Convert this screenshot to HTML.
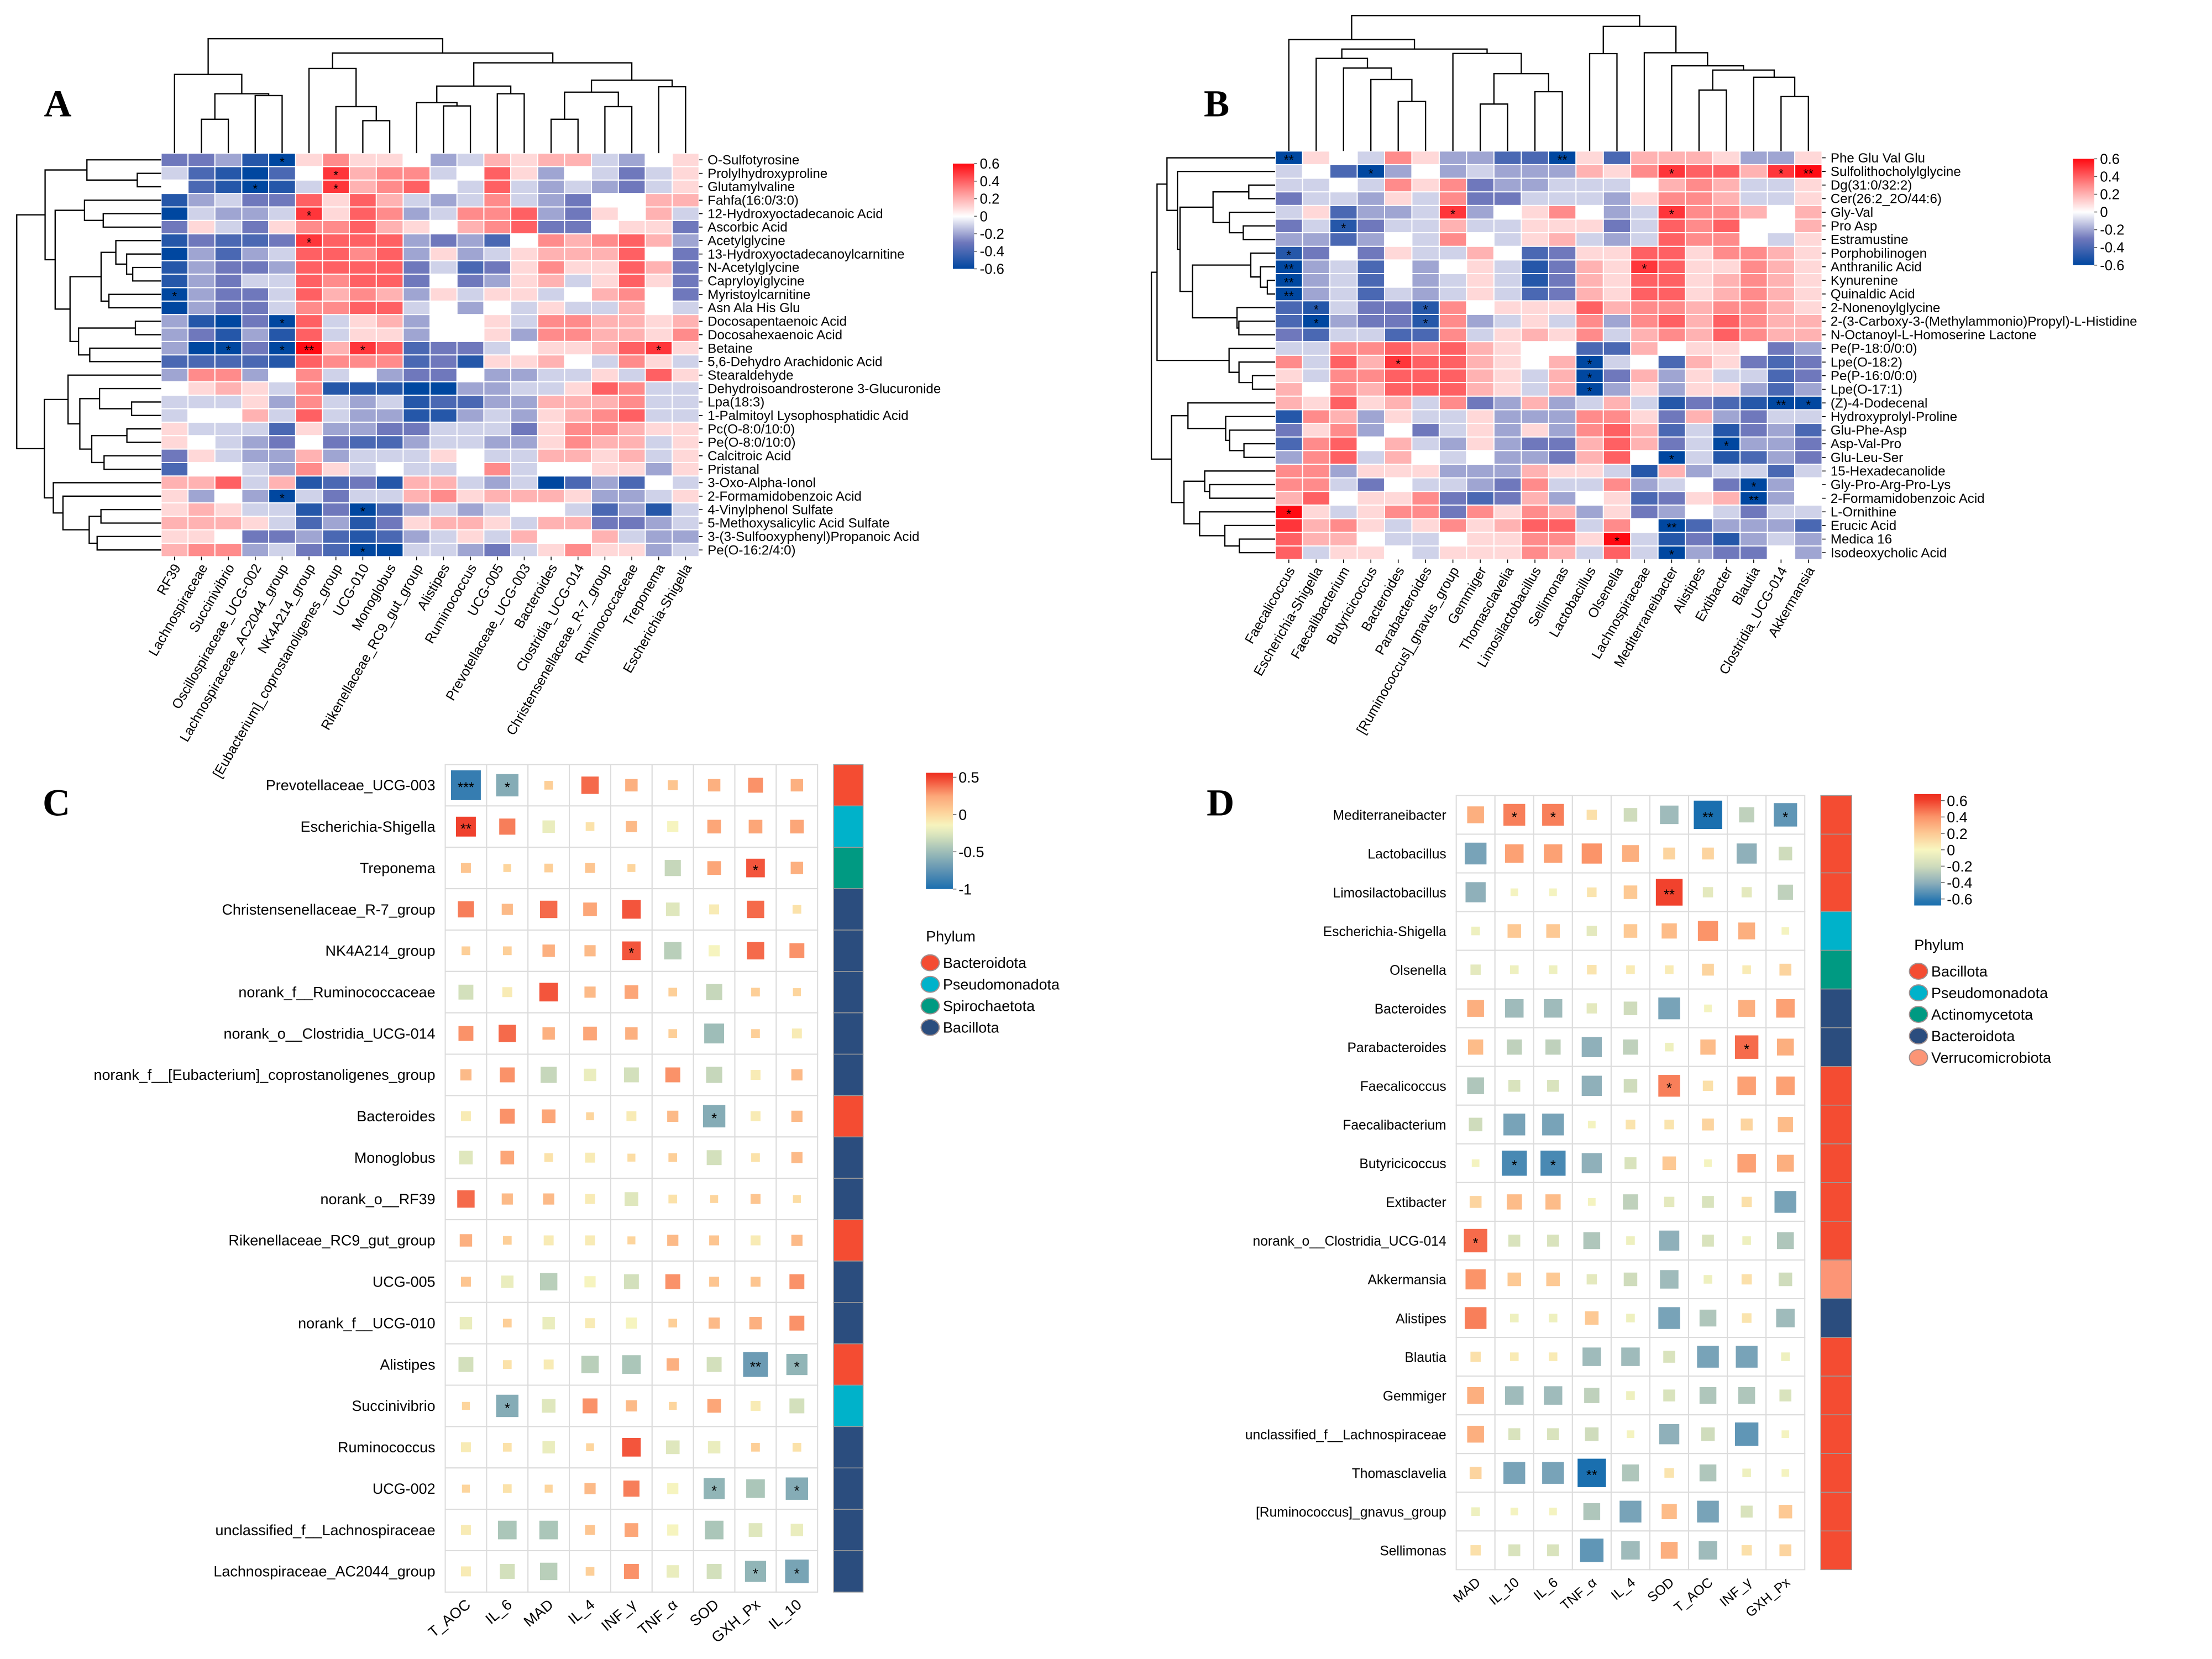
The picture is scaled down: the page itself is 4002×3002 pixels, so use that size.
<!DOCTYPE html>
<html><head><meta charset="utf-8"><style>
html,body{margin:0;padding:0;background:#fff}
svg{display:block}
text{font-family:"Liberation Sans",Arial,sans-serif;fill:#000}
</style></head><body>
<svg id="fig" xmlns="http://www.w3.org/2000/svg" width="4002" height="3002" viewBox="0 0 1560 1170" preserveAspectRatio="none">
<rect x="0" y="0" width="1560" height="1170" fill="#fff"/>
<g id="gA"></g>
<g id="gB"></g>
<g id="gC"></g>
<g id="gD"></g>
<text x="31" y="82" style="font-family:'Liberation Serif',serif;font-weight:bold;font-size:27px">A</text>
<text x="849" y="82" style="font-family:'Liberation Serif',serif;font-weight:bold;font-size:27px">B</text>
<text x="30" y="575" style="font-family:'Liberation Serif',serif;font-weight:bold;font-size:27px">C</text>
<text x="851" y="575" style="font-family:'Liberation Serif',serif;font-weight:bold;font-size:27px">D</text>
</svg>
<script>
// ---------- Panel A data ----------
const colsA = ["RF39","Lachnospiraceae","Succinivibrio","Oscillospiraceae_UCG-002","Lachnospiraceae_AC2044_group","NK4A214_group","[Eubacterium]_coprostanoligenes_group","UCG-010","Monoglobus","Rikenellaceae_RC9_gut_group","Alistipes","Ruminococcus","UCG-005","Prevotellaceae_UCG-003","Bacteroides","Clostridia_UCG-014","Christensenellaceae_R-7_group","Ruminococcaceae","Treponema","Escherichia-Shigella"];
const rowsA = ["O-Sulfotyrosine","Prolylhydroxyproline","Glutamylvaline","Fahfa(16:0/3:0)","12-Hydroxyoctadecanoic Acid","Ascorbic Acid","Acetylglycine","13-Hydroxyoctadecanoylcarnitine","N-Acetylglycine","Capryloylglycine","Myristoylcarnitine","Asn Ala His Glu","Docosapentaenoic Acid","Docosahexaenoic Acid","Betaine","5,6-Dehydro Arachidonic Acid","Stearaldehyde","Dehydroisoandrosterone 3-Glucuronide","Lpa(18:3)","1-Palmitoyl Lysophosphatidic Acid","Pc(O-8:0/10:0)","Pe(O-8:0/10:0)","Calcitroic Acid","Pristanal","3-Oxo-Alpha-Ionol","2-Formamidobenzoic Acid","4-Vinylphenol Sulfate","5-Methoxysalicylic Acid Sulfate","3-(3-Sulfooxyphenyl)Propanoic Acid","Pe(O-16:2/4:0)"];
// values in tenths of r
const valsA = [
[-3,-3,-2,-5,-6,1,3,1,1,0,-2,-1,2,1,2,2,-1,-2,0,1],
[-1,-4,-5,-6,-4,0,5,2,3,3,-1,0,4,1,-2,0,-1,-3,-1,1],
[0,-4,-5,-6,-5,-1,5,2,3,4,0,-1,4,-1,-2,-1,-2,-3,-1,1],
[-5,-2,-1,-3,-3,4,1,4,2,-1,-2,-1,3,-1,-2,-3,0,0,2,2],
[-6,-1,-2,-2,-1,5,1,4,3,-2,-1,3,3,4,-2,-3,1,0,2,-1],
[-3,1,-1,-3,1,3,3,4,2,1,0,2,3,4,-3,-3,0,1,1,-3],
[-5,-3,-4,-4,-3,5,4,4,4,-2,-3,-2,-4,0,3,2,3,4,2,-2],
[-6,-2,-4,-2,-1,4,4,3,4,-2,1,-2,-1,1,2,2,2,4,0,-3],
[-5,-2,-3,-3,-2,4,4,4,4,-3,-1,-4,-3,1,3,1,1,4,2,-3],
[-5,-2,-3,-1,-1,4,3,4,4,-3,0,-3,-2,1,2,-1,1,4,1,-3],
[-6,-2,-3,-3,-1,4,2,3,2,-2,1,-1,1,1,-1,0,2,3,0,-3],
[-6,-2,-3,-3,-1,3,3,4,4,-1,0,-2,0,-1,1,-1,-1,2,0,-1],
[-2,-5,-6,-3,-6,4,-1,1,2,-2,0,0,1,-1,3,3,2,2,1,2],
[-2,-3,-5,-2,-5,4,-1,1,1,-2,0,0,1,-2,3,3,2,2,1,3],
[-2,-6,-6,-3,-6,6,2,5,4,-4,-3,-3,-1,0,1,1,2,4,5,1],
[-4,-4,-4,-4,-5,4,3,3,3,-4,-3,-5,1,1,2,0,-1,3,1,-1],
[-2,3,3,-2,0,3,-1,0,-2,-3,-3,0,-2,-2,-1,-1,1,-1,4,1],
[0,1,2,1,-1,3,-5,-5,-5,-6,-6,-2,-2,-1,-1,1,4,3,-1,-1],
[-1,-1,-1,1,-2,3,-1,-2,-1,-5,-4,-4,-2,-2,2,2,2,3,-1,-1],
[-1,0,0,2,-1,4,-1,-2,-2,-5,-5,-2,-1,-2,1,2,3,4,-1,-1],
[1,-1,-1,-1,-4,1,-2,-2,-3,-3,-1,-1,-1,-3,1,3,3,2,1,1],
[1,0,-1,-2,-3,0,-3,-4,-4,-2,-1,-1,-2,-2,1,3,2,2,-1,1],
[-3,1,-1,-2,-2,2,-2,-1,-1,-1,1,0,-1,-1,2,2,1,2,-1,1],
[-4,0,0,-1,-2,3,1,-1,0,-1,-1,0,3,-1,0,0,1,1,-2,1],
[2,2,4,-1,2,-5,-4,-3,-5,2,2,-1,-2,-1,-6,-4,-2,-4,0,-1],
[1,-2,0,-2,-6,-1,-3,-1,-1,2,3,1,2,2,2,1,-2,-2,-1,1],
[1,2,1,-1,-1,-5,-3,-6,-4,-2,-1,-2,-1,0,0,-1,-4,-2,-5,-1],
[2,2,2,1,-1,-4,-2,-5,-3,1,2,2,1,-1,2,2,-3,-3,-2,-1],
[1,1,0,-3,-3,-2,-4,-5,-4,-2,-1,1,-1,2,0,0,2,-1,-2,-2],
[2,3,3,-2,-1,-3,-4,-6,-6,-1,-1,-2,-3,-1,1,3,1,1,-2,-1]];
const sigA = [[0,4,"*"],[1,6,"*"],[2,3,"*"],[2,6,"*"],[4,5,"*"],[6,5,"*"],[10,0,"*"],[12,4,"*"],[14,2,"*"],[14,4,"*"],[14,5,"**"],[14,7,"*"],[14,18,"*"],[25,4,"*"],[26,7,"*"],[29,7,"*"]];
const treeColA = [[0,[[1,2,84.1],[3,4,67.4],66.1],52.5],[[5,[6,[7,8,85.1],75.2],48.3],[[[9,[10,11,74.7],72.4],[12,13,66.1],60.7],[[[14,15,84.1],[16,17,75.2],65],[18,19,61.2],56.5],44.3],37.4],27.3];
const treeRowA = [[[0,[1,2,96.8],61.3],[[3,[4,5,72.8],59.6],[[[6,[7,[8,9,93.6],89.3],81.7],[10,11,76.8],71.3],[[12,13,95.5],[14,15,63.3],55.4],49.4],38.9],31.8],[[16,[[17,[18,19,92.8],70.2],[[20,21,89.5],[22,23,73.4],64.7],56.3],48],[24,[25,[[26,27,71.2],[28,29,68.5],62.9],44.4],37.6],31.3],11.8];

// ---------- Panel B data ----------
const colsB = ["Faecalicoccus","Escherichia-Shigella","Faecalibacterium","Butyricicoccus","Bacteroides","Parabacteroides","[Ruminococcus]_gnavus_group","Gemmiger","Thomasclavelia","Limosilactobacillus","Sellimonas","Lactobacillus","Olsenella","Lachnospiraceae","Mediterraneibacter","Alistipes","Extibacter","Blautia","Clostridia_UCG-014","Akkermansia"];
const rowsB = ["Phe Glu Val Glu","Sulfolithocholylglycine","Dg(31:0/32:2)","Cer(26:2_2O/44:6)","Gly-Val","Pro Asp","Estramustine","Porphobilinogen","Anthranilic Acid","Kynurenine","Quinaldic Acid","2-Nonenoylglycine","2-(3-Carboxy-3-(Methylammonio)Propyl)-L-Histidine","N-Octanoyl-L-Homoserine Lactone","Pe(P-18:0/0:0)","Lpe(O-18:2)","Pe(P-16:0/0:0)","Lpe(O-17:1)","(Z)-4-Dodecenal","Hydroxyprolyl-Proline","Glu-Phe-Asp","Asp-Val-Pro","Glu-Leu-Ser","15-Hexadecanolide","Gly-Pro-Arg-Pro-Lys","2-Formamidobenzoic Acid","L-Ornithine","Erucic Acid","Medica 16","Isodeoxycholic Acid"];
const valsB = [
[-6,1,0,-1,3,1,-2,-2,-4,-4,-6,1,-4,2,2,2,1,-2,-2,1],
[-1,0,-4,-6,-2,0,-2,-1,-2,-2,-2,2,1,3,5,4,4,2,5,6],
[-1,-1,0,-1,3,1,3,-3,-2,-2,-1,-1,-1,0,2,3,2,-1,-1,1],
[-3,-1,-1,-2,1,-1,3,-3,-3,-1,-1,-1,-2,1,3,3,2,-1,-1,1],
[-1,1,-4,-2,-2,-1,5,-2,0,1,3,0,-2,-1,5,3,3,2,0,2],
[-3,-1,-5,-3,-1,-1,2,-1,-1,1,1,1,-3,-1,4,3,4,0,0,2],
[-2,-2,-4,-2,0,-1,3,0,-1,1,2,-1,-2,-1,4,3,3,0,-1,1],
[-5,-3,0,-3,1,-1,-1,2,0,-4,-3,1,1,4,4,1,3,3,2,1],
[-6,-2,-1,-4,0,-2,0,1,-1,-5,-3,2,1,5,4,1,1,3,2,1],
[-6,-2,-1,-4,0,-2,-1,1,-1,-5,-3,2,1,4,4,1,2,3,2,1],
[-6,-2,-1,-4,-1,-2,-1,1,-1,-4,-3,2,1,4,4,1,2,3,2,1],
[-4,-5,-1,-3,-3,-5,3,0,1,1,1,4,2,3,3,2,3,3,2,1],
[-4,-6,-2,-3,-3,-5,3,-2,-1,1,-1,3,-2,3,4,2,4,3,2,2],
[-3,-4,-1,-1,-4,-4,3,-1,1,2,1,3,-1,2,3,2,4,3,2,2],
[-1,-1,3,3,4,3,4,2,1,0,0,-4,-4,2,0,1,1,0,-3,-2],
[3,-1,4,2,5,4,4,2,1,0,2,-6,-1,0,-4,2,1,-3,-4,-3],
[1,-1,3,3,4,4,4,2,1,-1,2,-6,-3,2,-2,1,-1,-1,-4,-3],
[2,0,3,2,4,4,4,2,1,-1,2,-6,-2,1,-2,1,1,-2,-4,-2],
[2,1,4,1,2,-1,3,-3,-2,2,-2,-1,2,-1,-5,-3,-4,-5,-6,-6],
[-5,3,2,-2,1,-1,-1,1,-2,-2,-2,3,3,1,-3,2,-2,-3,-1,-1],
[-3,1,3,-2,0,-3,-1,1,-2,1,-2,3,4,2,-4,-1,-5,-3,-2,-4],
[-4,3,4,0,2,-1,-2,1,-2,-3,-3,2,4,2,-3,-1,-6,-2,-2,-3],
[-2,3,4,-1,2,0,-1,0,-2,-2,-3,2,4,0,-6,-1,-5,-4,-2,-3],
[3,3,-2,1,1,1,-2,-2,-2,2,1,1,-1,-5,2,-2,-1,-1,-4,-1],
[3,3,-1,-3,0,-1,-1,-2,-3,3,-1,-1,3,-2,-1,0,-3,-6,-2,0],
[2,4,0,1,1,3,-3,-4,-3,2,-2,0,1,-4,-3,1,2,-6,-2,0],
[6,1,-1,1,3,3,-3,3,1,3,2,-2,1,-3,-2,0,-1,-3,-1,-1],
[5,2,3,1,-1,1,3,1,2,4,4,-1,3,0,-6,-4,-2,-2,-2,-4],
[4,2,2,0,-1,-1,0,1,1,3,3,1,6,-1,-5,-3,-5,-2,-1,-2],
[4,-1,1,1,0,-1,1,1,1,3,2,-1,4,-1,-6,-2,-3,-3,0,-2]];
const sigB = [[0,0,"**"],[0,10,"**"],[1,3,"*"],[1,14,"*"],[1,18,"*"],[1,19,"**"],[4,6,"*"],[4,14,"*"],[5,2,"*"],[7,0,"*"],[8,0,"**"],[8,13,"*"],[9,0,"**"],[10,0,"**"],[11,1,"*"],[11,5,"*"],[12,1,"*"],[12,5,"*"],[15,4,"*"],[15,11,"*"],[16,11,"*"],[17,11,"*"],[18,18,"**"],[18,19,"*"],[21,16,"*"],[22,14,"*"],[24,17,"*"],[25,17,"**"],[26,0,"*"],[27,14,"**"],[28,12,"*"],[29,14,"*"]];
const treeColB = [[0,[[1,[2,[3,[4,5,71.6],56.1],48],41.2],[6,[[7,8,73.4],[9,10,64.7],51.9],37.7],34.6],27.9],[[11,12,37.8],[13,[14,[[15,16,63.5],[17,[18,19,68.1],54.5],49.4],46.4],37.2],18.6],11];
const treeRowB = [[[0,[1,[[[2,3,880.7],[4,[5,6,876.8],867],855.5],[[7,[8,[9,10,893.8],888.9],882.1],[11,[12,13,873.7],872.4],841],832.2],830.4],823],[14,[15,[16,17,883.3],873.8],866.8],816],[[18,[19,[20,[21,22,877.3],867.2],864.4],837.8],[[23,[24,25,853.1],849.6],[26,[27,[28,29,874],863.8],846],835],826.2],812];

// ---------- Panel C data ----------
const rowsC = ["Prevotellaceae_UCG-003","Escherichia-Shigella","Treponema","Christensenellaceae_R-7_group","NK4A214_group","norank_f__Ruminococcaceae","norank_o__Clostridia_UCG-014","norank_f__[Eubacterium]_coprostanoligenes_group","Bacteroides","Monoglobus","norank_o__RF39","Rikenellaceae_RC9_gut_group","UCG-005","norank_f__UCG-010","Alistipes","Succinivibrio","Ruminococcus","UCG-002","unclassified_f__Lachnospiraceae","Lachnospiraceae_AC2044_group"];
const colsC = ["T_AOC","IL_6","MAD","IL_4","INF_γ","TNF_α","SOD","GXH_Px","IL_10"];
const valsC = [
[-0.9,-0.6,0.05,0.4,0.2,0.1,0.2,0.3,0.2],
[0.5,0.35,-0.2,-0.05,0.15,-0.15,0.25,0.25,0.25],
[0.1,0.02,0.05,0.1,0.02,-0.35,0.25,0.45,0.2],
[0.35,0.15,0.4,0.25,0.45,-0.25,-0.1,0.4,-0.05],
[0.05,0.05,0.2,0.15,0.45,-0.4,-0.15,0.4,0.3],
[-0.3,-0.1,0.45,0.15,0.25,0.05,-0.35,0.05,0.02],
[0.3,0.4,0.2,0.25,0.2,0.05,-0.5,0.05,-0.1],
[0.15,0.3,-0.35,-0.2,-0.3,0.3,-0.35,-0.1,0.15],
[-0.1,0.3,0.25,0.02,-0.1,0.15,-0.6,-0.1,0.15],
[-0.25,0.25,-0.05,-0.1,-0.02,0.05,-0.3,-0.05,0.15],
[0.4,0.15,0.15,-0.1,-0.25,-0.05,0.02,0.1,-0.02],
[0.2,0.05,-0.1,-0.1,0.02,0.15,0.1,-0.1,0.15],
[0.1,-0.2,-0.4,-0.15,-0.3,0.3,0.1,0.1,0.3],
[-0.2,0.05,-0.2,-0.1,-0.15,0.05,0.15,0.2,0.3],
[-0.3,-0.05,-0.1,-0.4,-0.45,0.2,-0.3,-0.7,-0.55],
[0.02,-0.6,-0.25,0.3,0.15,0.02,0.25,-0.1,-0.3],
[-0.1,-0.05,-0.2,0.02,0.45,-0.25,-0.2,0.05,-0.05],
[0.02,-0.05,0.02,0.15,0.35,-0.15,-0.55,-0.45,-0.6],
[-0.1,-0.45,-0.45,0.1,0.25,-0.15,-0.45,-0.25,-0.2],
[-0.1,-0.3,-0.4,0.05,0.3,-0.2,-0.3,-0.55,-0.65]];
const sigC = [[0,0,"***"],[0,1,"*"],[1,0,"**"],[2,7,"*"],[4,4,"*"],[8,6,"*"],[14,7,"**"],[14,8,"*"],[15,1,"*"],[17,6,"*"],[17,8,"*"],[19,7,"*"],[19,8,"*"]];
const phylumC = ["Bacteroidota","Pseudomonadota","Spirochaetota","Bacillota","Bacillota","Bacillota","Bacillota","Bacillota","Bacteroidota","Bacillota","Bacillota","Bacteroidota","Bacillota","Bacillota","Bacteroidota","Pseudomonadota","Bacillota","Bacillota","Bacillota","Bacillota"];
const legendC = ["Bacteroidota","Pseudomonadota","Spirochaetota","Bacillota"];
const ticksC = [0.5,0,-0.5,-1];

// ---------- Panel D data ----------
const rowsD = ["Mediterraneibacter","Lactobacillus","Limosilactobacillus","Escherichia-Shigella","Olsenella","Bacteroides","Parabacteroides","Faecalicoccus","Faecalibacterium","Butyricicoccus","Extibacter","norank_o__Clostridia_UCG-014","Akkermansia","Alistipes","Blautia","Gemmiger","unclassified_f__Lachnospiraceae","Thomasclavelia","[Ruminococcus]_gnavus_group","Sellimonas"];
const colsD = ["MAD","IL_10","IL_6","TNF_α","IL_4","SOD","T_AOC","INF_γ","GXH_Px"];
const valsD = [
[0.3,0.45,0.45,0.1,-0.2,-0.35,-0.65,-0.25,-0.5],
[-0.45,0.35,0.35,0.4,0.3,0.15,0.15,-0.4,-0.2],
[-0.4,-0.02,-0.02,0.08,0.2,0.6,-0.1,-0.1,-0.25],
[-0.05,0.2,0.2,-0.1,0.2,0.25,0.4,0.3,-0.02],
[-0.1,-0.05,-0.05,0.08,0.05,0.05,0.15,0.05,0.15],
[0.3,-0.35,-0.35,-0.1,-0.2,-0.45,-0.02,0.3,0.35],
[0.25,-0.25,-0.25,-0.4,-0.25,-0.05,0.25,0.5,0.3],
[-0.3,-0.15,-0.15,-0.4,-0.2,0.45,0.1,0.35,0.35],
[-0.2,-0.45,-0.45,-0.02,0.08,0.08,0.15,0.15,0.25],
[-0.02,-0.55,-0.55,-0.4,-0.15,0.2,-0.02,0.35,0.3],
[0.15,0.25,0.25,-0.02,-0.25,-0.1,-0.15,0.1,-0.45],
[0.5,-0.15,-0.15,-0.3,-0.05,-0.4,-0.15,-0.05,-0.3],
[0.4,0.2,0.2,-0.1,-0.2,-0.35,-0.05,0.1,-0.2],
[0.45,-0.05,-0.05,0.2,-0.05,-0.45,-0.3,0.08,-0.35],
[0.1,0.05,0.05,-0.35,-0.35,-0.15,-0.45,-0.45,-0.05],
[0.3,-0.35,-0.35,-0.25,-0.05,-0.15,-0.3,-0.3,-0.15],
[0.3,-0.15,-0.15,-0.2,-0.02,-0.4,-0.2,-0.5,-0.02],
[0.15,-0.45,-0.45,-0.65,-0.3,0.08,-0.3,-0.05,-0.02],
[-0.05,-0.02,-0.02,-0.3,-0.45,0.25,-0.45,-0.15,0.2],
[0.1,-0.15,-0.15,-0.5,-0.35,0.3,-0.35,0.1,0.15]];
const sigD = [[0,1,"*"],[0,2,"*"],[0,6,"**"],[0,8,"*"],[2,5,"**"],[6,7,"*"],[7,5,"*"],[9,1,"*"],[9,2,"*"],[11,0,"*"],[17,3,"**"]];
const phylumD = ["Bacillota","Bacillota","Bacillota","Pseudomonadota","Actinomycetota","Bacteroidota","Bacteroidota","Bacillota","Bacillota","Bacillota","Bacillota","Bacillota","Verrucomicrobiota","Bacteroidota","Bacillota","Bacillota","Bacillota","Bacillota","Bacillota","Bacillota"];
const legendD = ["Bacillota","Pseudomonadota","Actinomycetota","Bacteroidota","Verrucomicrobiota"];
const ticksD = [0.6,0.4,0.2,0,-0.2,-0.4,-0.6];
const ticksAB = [0.6,0.4,0.2,0,-0.2,-0.4,-0.6];

// ---------- helpers ----------
const NS = "http://www.w3.org/2000/svg";
function mk(parent, tag, attrs, txt){
  const e = document.createElementNS(NS, tag);
  for (const k in attrs) e.setAttribute(k, attrs[k]);
  if (txt !== undefined) e.textContent = txt;
  parent.appendChild(e);
  return e;
}
function hex(c){return [parseInt(c.slice(1,3),16),parseInt(c.slice(3,5),16),parseInt(c.slice(5,7),16)];}
function interp(stops, v){
  if (v <= stops[0][0]) return stops[0][1];
  if (v >= stops[stops.length-1][0]) return stops[stops.length-1][1];
  for (let i=0;i<stops.length-1;i++){
    const a=stops[i], b=stops[i+1];
    if (v>=a[0] && v<=b[0]){
      const t=(v-a[0])/(b[0]-a[0]); const ca=hex(a[1]), cb=hex(b[1]);
      return "rgb("+ca.map((x,j)=>Math.round(x+(cb[j]-x)*t)).join(",")+")";
    }
  }
}
const stopsAB = [[-0.6,"#0047a0"],[-0.3,"#6f78bc"],[0,"#ffffff"],[0.3,"#ff8b8b"],[0.6,"#ff0a12"]];
const stopsC = [[-1,"#1a6faf"],[-0.75,"#5f93b3"],[-0.5,"#9ebdb8"],[-0.3,"#d3e0bc"],[-0.15,"#f6f4bf"],[0,"#fdd9a0"],[0.25,"#fca678"],[0.55,"#ee2d1e"]];
const stopsD = [[-0.65,"#1a6faf"],[-0.4,"#8fb0ba"],[-0.2,"#cfdcbc"],[0,"#f8f6c0"],[0.2,"#fdc994"],[0.4,"#fb9469"],[0.65,"#ee2d1e"]];
const phylumColors = {"Bacteroidota":"#f44c32","Pseudomonadota":"#00b2ca","Spirochaetota":"#009a82","Bacillota":"#2b4d7e","Actinomycetota":"#009a82","Verrucomicrobiota":"#fc9576"};
const phylumColorsD = {"Bacillota":"#f44c32","Pseudomonadota":"#00b2ca","Actinomycetota":"#009a82","Bacteroidota":"#2b4d7e","Verrucomicrobiota":"#fc9576"};

// dendrogram: node=[l,r,h]; leafPos(i) gives position; base = leaf height
function drawTree(g, node, leafPos, base, vertical, name){
  function rec(n){
    if (typeof n === "number") return {p:leafPos(n), h:base};
    const a=rec(n[0]), b=rec(n[1]), h=n[2];
    let d;
    if (vertical) d = "M"+a.p+","+a.h+"V"+h+"H"+b.p+"V"+b.h;
    else d = "M"+a.h+","+a.p+"H"+h+"V"+b.p+"H"+b.h;
    const e = mk(g,"path",{d:d,fill:"none",stroke:"#000","stroke-width":0.9});
    
    
    return {p:(a.p+b.p)/2, h:h};
  }
  rec(node);
}

function heatmap(g, key, rows, cols, vals, sig, x0, x1, y0, y1, labelX, colTree, rowTree, colTreeBase, rowTreeBase, legendX, legendY0, legendY1){
  const cw=(x1-x0)/cols.length, ch=(y1-y0)/rows.length;
  const xs=i=>x0+cw*(i+0.5), ys=i=>y0+ch*(i+0.5);
  for (let r=0;r<rows.length;r++){
    for (let c=0;c<cols.length;c++){
      const v=vals[r][c]/10;
      const e=mk(g,"rect",{x:x0+c*cw+0.4,y:y0+r*ch+0.4,width:cw-0.8,height:ch-0.8,fill:interp(stopsAB,v)});
      
      
    }
    const t=mk(g,"text",{x:labelX,y:ys(r)+3.2,"font-size":9.4},rows[r]);
    
    
    const tk=mk(g,"line",{x1:x1,x2:x1+2.5,y1:ys(r),y2:ys(r),stroke:"#000","stroke-width":0.6});
    
    
  }
  for (const s of sig){
    const t=mk(g,"text",{x:xs(s[1]),y:ys(s[0])+4.5,"font-size":9,"text-anchor":"middle"},s[2]);
    
    
  }
  for (let c=0;c<cols.length;c++){
    const cx=xs(c), cy=y1+6;
    const t=mk(g,"text",{x:cx+2,y:cy+3,"font-size":9.6,"text-anchor":"end",transform:"rotate(-60 "+(cx+2)+" "+cy+")"},cols[c]);
    
    
    const tk=mk(g,"line",{x1:cx,x2:cx,y1:y1,y2:y1+2.5,stroke:"#000","stroke-width":0.6});
    
    
  }
  drawTree(g,colTree,xs,colTreeBase,true,key+'-column-dendrogram');
  drawTree(g,rowTree,ys,rowTreeBase,false,key+'-row-dendrogram');
  // colorbar
  const defs=mk(g,"defs",{});
  const lg=mk(defs,"linearGradient",{id:"grad"+key,x1:0,y1:0,x2:0,y2:1});
  for (let i=0;i<=12;i++){ const v=0.6-i*0.1; mk(lg,"stop",{offset:(i/12),"stop-color":interp(stopsAB,v)}); }
  const bar=mk(g,"rect",{x:legendX,y:legendY0,width:15,height:legendY1-legendY0,fill:"url(#grad"+key+")"});
  
  
  for (const tv of ticksAB){
    const ty=legendY0+(0.6-tv)/1.2*(legendY1-legendY0);
    const tk=mk(g,"line",{x1:legendX+15,x2:legendX+17,y1:ty,y2:ty,stroke:"#555","stroke-width":0.6});
    
    
    const t=mk(g,"text",{x:legendX+19,y:ty+3.5,"font-size":10},String(tv));
    
    
  }
}

heatmap(document.getElementById("gA"),"A",rowsA,colsA,valsA,sigA,113.6,493,108,392.6,499,treeColA,treeRowA,108,113.6,672,115.4,189.6);
heatmap(document.getElementById("gB"),"B",rowsB,colsB,valsB,sigB,899.3,1285,106.5,394.6,1291,treeColB,treeRowB,106.5,899.3,1462,112,187);

function corrPlot(g, key, rows, cols, vals, sig, phylum, pcol, stops, vmin, vmax, ticks, sizeK, x0, x1, y0, y1, barX0, barX1, lx, ly0, ly1, legItems, legY, rowFont){
  const cw=(x1-x0)/cols.length, ch=(y1-y0)/rows.length;
  const xs=i=>x0+cw*(i+0.5), ys=i=>y0+ch*(i+0.5);
  for (let r=0;r<rows.length;r++){
    for (let c=0;c<cols.length;c++){
      const cell=mk(g,"rect",{x:x0+c*cw,y:y0+r*ch,width:cw,height:ch,fill:"#fff",stroke:"#dcdcdc","stroke-width":0.8});
      
      
      const v=vals[r][c];
      const s=cw*(0.18+sizeK*Math.abs(v));
      const b=mk(g,"rect",{x:xs(c)-s/2,y:ys(r)-s/2,width:s,height:s,fill:interp(stops,v)});
      
      
    }
    const t=mk(g,"text",{x:x0-7,y:ys(r)+3.6,"font-size":rowFont,"text-anchor":"end"},rows[r]);
    
    
    const p=mk(g,"rect",{x:barX0,y:y0+r*ch,width:barX1-barX0,height:ch,fill:pcol[phylum[r]],stroke:"#9a9a9a","stroke-width":0.6});
    
    
  }
  for (const s of sig){
    const t=mk(g,"text",{x:xs(s[1]),y:ys(s[0])+5,"font-size":10,"text-anchor":"middle"},s[2]);
    
    
  }
  for (let c=0;c<cols.length;c++){
    const cx=xs(c)+4, cy=y1+10;
    const t=mk(g,"text",{x:cx,y:cy,"font-size":rowFont,"text-anchor":"end",transform:"rotate(-40 "+cx+" "+cy+")"},cols[c]);
    
    
  }
  const defs=mk(g,"defs",{});
  const lg=mk(defs,"linearGradient",{id:"grad"+key,x1:0,y1:0,x2:0,y2:1});
  for (let i=0;i<=20;i++){ const v=vmax-(vmax-vmin)*i/20; mk(lg,"stop",{offset:i/20,"stop-color":interp(stops,v)}); }
  const bar=mk(g,"rect",{x:lx,y:ly0,width:19,height:ly1-ly0,fill:"url(#grad"+key+")"});
  
  
  for (const tv of ticks){
    const ty=ly0+(vmax-tv)/(vmax-vmin)*(ly1-ly0);
    const tk=mk(g,"line",{x1:lx+19,x2:lx+21.5,y1:ty,y2:ty,stroke:"#666","stroke-width":0.6});
    
    
    const t=mk(g,"text",{x:lx+23,y:ty+3.8,"font-size":10.5},String(tv));
    
    
  }
  const ttl=mk(g,"text",{x:lx,y:legY,"font-size":10.5},"Phylum");
  
  
  legItems.forEach((name,i)=>{
    const cy=legY+15+i*15.2;
    const c=mk(g,"ellipse",{cx:lx+3,cy:cy,rx:6.4,ry:5.6,fill:pcol[name],stroke:"#a09090","stroke-width":0.8});
    
    
    const t=mk(g,"text",{x:lx+12,y:cy+3.6,"font-size":10.5},name);
    
    
  });
}
// C colour bar runs -1..0.55
corrPlot(document.getElementById("gC"),"C",rowsC,colsC,valsC,sigC,phylumC,phylumColors,stopsC,-1,0.56,ticksC,0.6,314,576.6,539.2,1122.8,587.9,608.7,653,545,627,legendC,664,10.5);
corrPlot(document.getElementById("gD"),"D",rowsD,colsD,valsD,sigD,phylumD,phylumColorsD,stopsD,-0.68,0.68,ticksD,0.85,1027,1272.8,561,1107,1284.1,1305.9,1350,560,638.6,legendD,670,9.6);
</script>
</body></html>
